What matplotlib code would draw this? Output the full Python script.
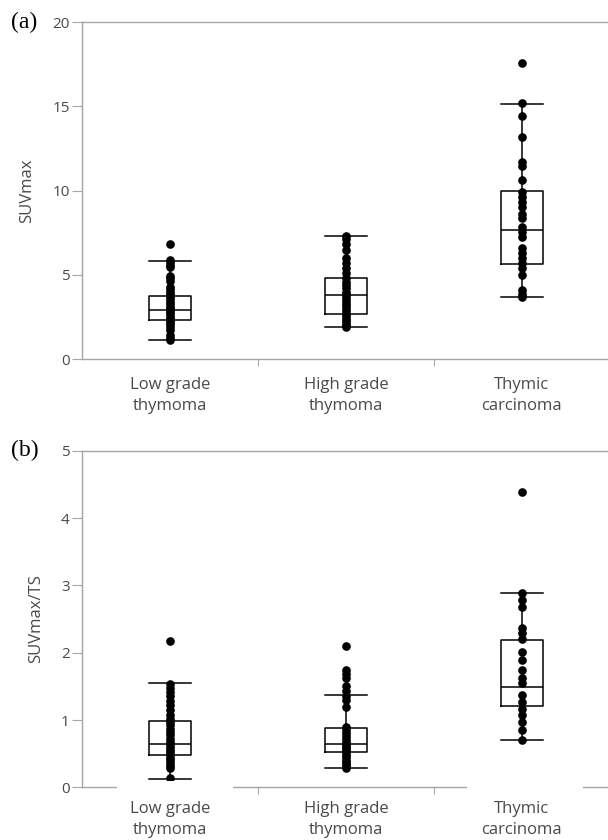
import matplotlib.pyplot as plt
from matplotlib.patches import Rectangle
import matplotlib.transforms as mtransforms

# categories
groups = ["Low grade\nthymoma", "High grade\nthymoma", "Thymic\ncarcinoma"]

# (a) SUVmax - box statistics
suv_whislo = [1.15, 1.90, 3.66]
suv_q1 = [2.31, 2.65, 5.64]
suv_med = [2.91, 3.82, 7.66]
suv_q3 = [3.74, 4.83, 9.97]
suv_whishi = [5.82, 7.30, 15.13]

# (a) SUVmax - individual cases
suv_low = [6.8, 5.9, 5.75, 5.6, 5.45, 4.95, 4.8, 4.65, 4.3, 4.15, 4.0, 3.85,
           3.7, 3.55, 3.4, 3.25, 3.1, 3.0, 2.9, 2.8, 2.65, 2.5, 2.4, 2.3,
           2.2, 2.05, 1.9, 1.75, 1.4, 1.25, 1.15]
suv_high = [7.3, 7.1, 6.8, 6.45, 6.0, 5.7, 5.4, 5.1, 4.8, 4.6, 4.4, 4.2,
            4.0, 3.85, 3.7, 3.5, 3.35, 3.2, 3.0, 2.85, 2.7, 2.55, 2.4, 2.25,
            2.1, 2.0, 1.9]
suv_carc = [17.6, 15.2, 14.4, 13.2, 11.7, 11.47, 10.6, 9.93, 9.63, 9.34,
            9.04, 8.64, 8.35, 7.85, 7.56, 7.26, 6.57, 6.27, 5.98, 5.68, 5.38,
            4.98, 4.1, 3.86, 3.66]

# (b) SUVmax/TS - box statistics
ts_whislo = [0.13, 0.29, 0.71]
ts_q1 = [0.48, 0.52, 1.21]
ts_med = [0.65, 0.65, 1.49]
ts_q3 = [0.98, 0.876, 2.19]
ts_whishi = [1.545, 1.37, 2.88]

# (b) SUVmax/TS - individual cases
ts_low = [2.17, 1.53, 1.48, 1.42, 1.35, 1.28, 1.22, 1.15, 1.08, 1.02, 0.97,
          0.92, 0.87, 0.82, 0.77, 0.72, 0.68, 0.64, 0.6, 0.56, 0.52, 0.48,
          0.44, 0.4, 0.36, 0.32, 0.28, 0.14]
ts_high = [2.10, 1.75, 1.68, 1.62, 1.50, 1.43, 1.36, 1.30, 1.19, 0.90, 0.85,
           0.80, 0.76, 0.72, 0.68, 0.65, 0.62, 0.58, 0.55, 0.52, 0.48, 0.45,
           0.41, 0.38, 0.35, 0.32, 0.29]
ts_carc = [4.38, 2.88, 2.78, 2.68, 2.36, 2.29, 2.21, 2.01, 1.89, 1.74, 1.62,
           1.55, 1.37, 1.27, 1.17, 1.07, 0.975, 0.85, 0.71]

GREY = "#a6a6a6"
TXT = "#4a4a4a"
FONT = "Open Sans"


def draw_panel(ax, whislo, q1, med, q3, whishi, points, ylabel, ymax, step,
               letter, gaps=()):
    stats = []
    for i in range(len(groups)):
        stats.append({"whislo": whislo[i], "q1": q1[i], "med": med[i],
                      "q3": q3[i], "whishi": whishi[i], "fliers": []})
    line = {"color": "black", "linewidth": 1.1}
    ax.bxp(stats, positions=[1, 2, 3], widths=0.24, showfliers=False,
           boxprops=line, whiskerprops=line, capprops=line, medianprops=line,
           capwidths=0.24)
    for i, vals in enumerate(points):
        ax.plot([i + 1] * len(vals), vals, "o", color="black", ms=5.2,
                zorder=3, clip_on=False)

    ax.set_xlim(0.5, 3.5)
    ax.set_ylim(0, ymax)
    ax.set_yticks([step * k for k in range(int(ymax / step) + 1)])
    ax.set_xticks([1, 2, 3])
    ax.set_xticklabels(groups, fontfamily=FONT, fontsize=12, color=TXT,
                       linespacing=1.42)
    ax.set_xticks([1.5, 2.5], minor=True)
    ax.tick_params(axis="x", which="major", length=0, pad=13)
    ax.tick_params(axis="x", which="minor", length=5, color=GREY, width=0.8)
    ax.tick_params(axis="y", length=7, color=GREY, width=0.8, pad=2,
                   labelsize=11, labelcolor=TXT)
    for lab in ax.get_yticklabels():
        lab.set_fontfamily(FONT)
    ax.set_ylabel(ylabel, fontfamily=FONT, fontsize=12, color=TXT, labelpad=12)
    for side in ["left", "bottom", "top"]:
        ax.spines[side].set_color(GREY)
        ax.spines[side].set_linewidth(1.0)
    ax.spines["right"].set_visible(False)
    ax.text(-0.135, 1.0, letter, transform=ax.transAxes, fontsize=17,
            fontfamily="Liberation Serif", va="center", ha="left")

    # white blanks over the bottom axis line behind some labels
    trans = mtransforms.blended_transform_factory(ax.transData, ax.transAxes)
    for g in gaps:
        ax.add_patch(Rectangle((g - 0.33, -0.02), 0.66, 0.04, transform=trans,
                               facecolor="white", edgecolor="none",
                               clip_on=False, zorder=5))


fig = plt.figure(figsize=(6.08, 8.4), dpi=100)
ax1 = fig.add_axes([0.135, 0.5726, 0.868, 0.401])
ax2 = fig.add_axes([0.135, 0.0627, 0.868, 0.4007])

draw_panel(ax1, suv_whislo, suv_q1, suv_med, suv_q3, suv_whishi,
           [suv_low, suv_high, suv_carc], "SUVmax", 20, 5, "(a)")
draw_panel(ax2, ts_whislo, ts_q1, ts_med, ts_q3, ts_whishi,
           [ts_low, ts_high, ts_carc], "SUVmax/TS", 5, 1, "(b)",
           gaps=(1.03, 3.02))
ax2.tick_params(axis="x", which="major", pad=10)

fig.savefig("out.png", dpi=100)
